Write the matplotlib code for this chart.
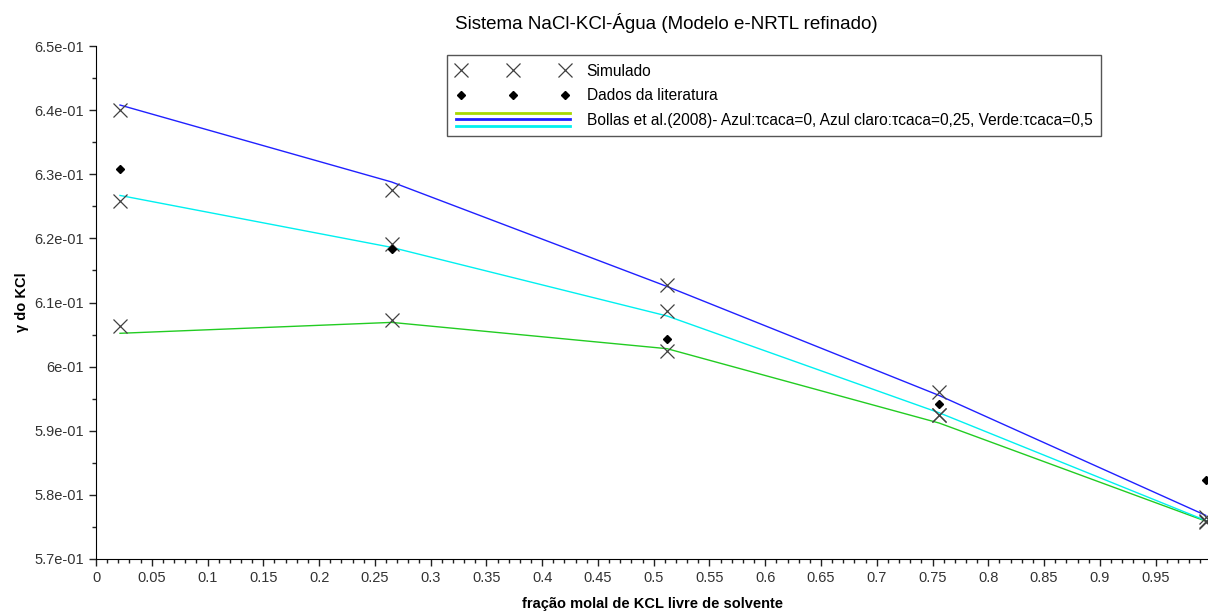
import numpy as np
import matplotlib
matplotlib.use('Agg')
import matplotlib.pyplot as plt
from matplotlib.lines import Line2D
from matplotlib.legend_handler import HandlerBase
from matplotlib.ticker import MultipleLocator, FuncFormatter

plt.rcParams['font.family'] = ['Liberation Sans', 'DejaVu Sans']

# fração molal de KCl livre de solvente
x_frac = [0.0215, 0.265, 0.512, 0.756, 0.995]

# gamma simulado (tau caca = 0 / 0.25 / 0.5)
sim_tau0 = [0.6400, 0.6275, 0.6127, 0.5960, 0.5766]
sim_tau025 = [0.6258, 0.6191, 0.6086, 0.5924, 0.5760]
sim_tau05 = [0.6063, 0.6072, 0.6025, 0.5924, 0.5757]

# dados da literatura
lit = [0.6309, 0.6184, 0.6043, 0.5942, 0.5823]

# curvas Bollas et al. (2008)
bollas_azul = [0.6408, 0.6288, 0.6125, 0.5955, 0.5768]
bollas_azul_claro = [0.6267, 0.6186, 0.6079, 0.5928, 0.5760]
bollas_verde = [0.6052, 0.6069, 0.6028, 0.5912, 0.5759]

x_ticks = np.arange(0, 0.951, 0.05)
y_ticks = np.arange(0.57, 0.6501, 0.01)


class TripleLineHandler(HandlerBase):
    def create_artists(self, legend, orig_handle, xdescent, ydescent,
                       width, height, fontsize, trans):
        arts = []
        for i, ln in enumerate(orig_handle):
            y = height / 2 - ydescent + (1 - i) * 0.6 * height
            arts.append(Line2D([-xdescent, width - xdescent], [y, y],
                               color=ln.get_color(), lw=2, transform=trans))
        return arts


fig = plt.figure(figsize=(12.08, 6.14), dpi=100)
ax = fig.add_axes([0.0795, 0.0896, 0.9205, 0.8354])

ax.plot(x_frac, bollas_verde, color='#22cc22', lw=1)
ax.plot(x_frac, bollas_azul, color='#2020ff', lw=1)
ax.plot(x_frac, bollas_azul_claro, color='#00f0f0', lw=1)

for s in (sim_tau0, sim_tau025, sim_tau05):
    ax.plot(x_frac, s, linestyle='none', marker='x', color='#404040',
            markersize=9.5, markeredgewidth=0.9, clip_on=False)
ax.plot(x_frac, lit, linestyle='none', marker='D', color='black',
        markersize=4, clip_on=False)

ax.set_xlim(0, 0.997)
ax.set_ylim(0.57, 0.65)
ax.set_xticks(x_ticks)
ax.set_yticks(y_ticks)
ax.xaxis.set_minor_locator(MultipleLocator(0.01))
ax.yaxis.set_minor_locator(MultipleLocator(0.005))
ax.xaxis.set_major_formatter(FuncFormatter(lambda v, p: '%g' % round(v, 2)))
ax.yaxis.set_major_formatter(FuncFormatter(lambda v, p: ('%.1e' % v).replace('.0e', 'e')))
ax.tick_params(which='major', direction='out', length=5, width=1, labelsize=10.5,
               colors='#222222', labelcolor='#333333')
ax.tick_params(which='minor', direction='out', length=3, width=1, colors='#222222')
ax.spines['top'].set_visible(False)
ax.spines['right'].set_visible(False)

ax.set_title('Sistema NaCl-KCl-Água (Modelo e-NRTL refinado)', fontsize=13.5, pad=12, x=0.5125)
ax.set_xlabel('fração molal de KCL livre de solvente', fontsize=10.5, fontweight='bold', labelpad=9)
ax.set_ylabel('γ do KCl', fontsize=10.5, fontweight='bold', labelpad=4)

h_sim = Line2D([], [], linestyle='none', marker='x', color='#404040',
               markersize=9.5, markeredgewidth=0.9)
h_lit = Line2D([], [], linestyle='none', marker='D', color='black', markersize=4)
h_lines = (Line2D([], [], color='#a8d800'), Line2D([], [], color='#2020ff'),
           Line2D([], [], color='#00f0f0'))
leg = ax.legend([h_sim, h_lit, h_lines],
                ['Simulado', 'Dados da literatura',
                 'Bollas et al.(2008)- Azul:τcaca=0, Azul claro:τcaca=0,25, Verde:τcaca=0,5'],
                handler_map={tuple: TripleLineHandler()},
                loc='upper left', bbox_to_anchor=(0.309, 0.997), numpoints=3,
                handlelength=7.3, handletextpad=1.1, fontsize=11.2, fancybox=False,
                framealpha=1, edgecolor='#555555', borderpad=0.55, labelspacing=0.6)
leg.get_frame().set_linewidth(1)

fig.savefig('out.png', dpi=100)
